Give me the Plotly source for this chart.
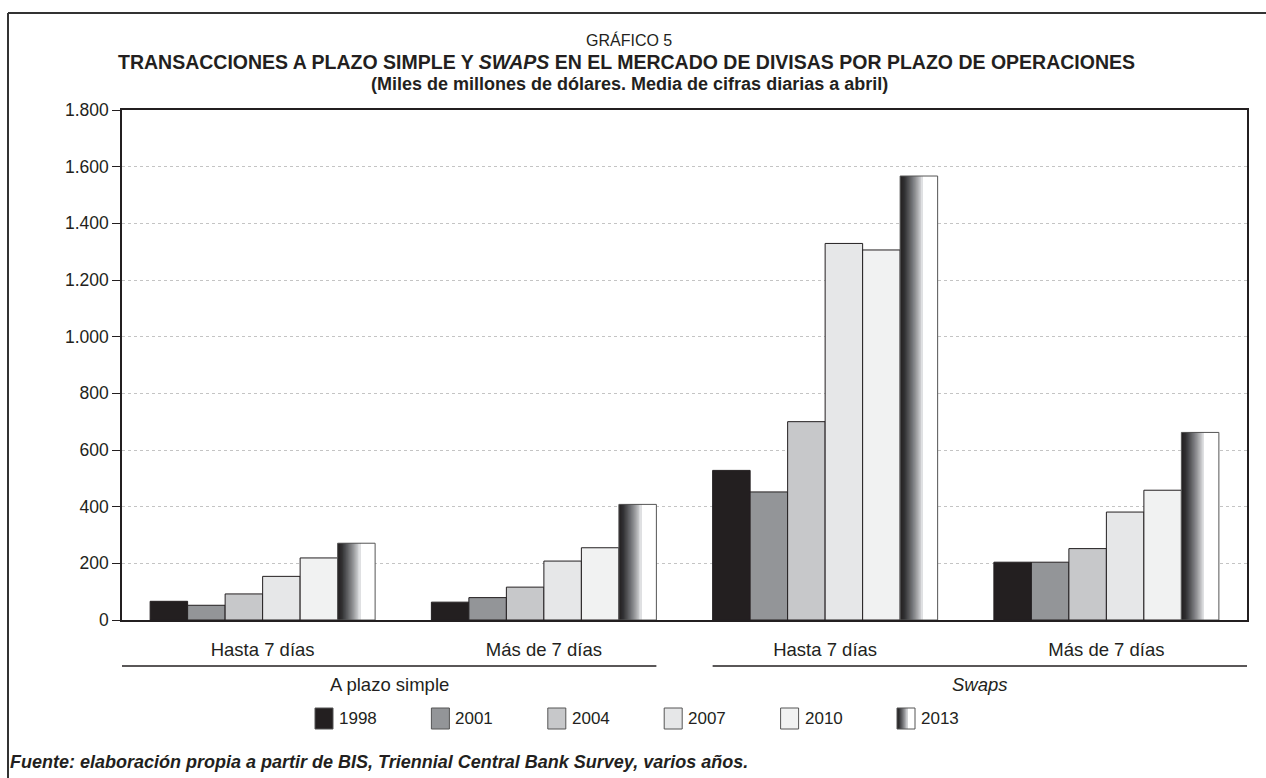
import plotly.graph_objects as go

# Data: billions of USD, daily average in April
groups = ["Hasta 7 días", "Más de 7 días", "Hasta 7 días", "Más de 7 días"]
segments = ["A plazo simple", "<i>Swaps</i>"]
years = ["1998", "2001", "2004", "2007", "2010", "2013"]
v1998 = [66, 63, 528, 204]
v2001 = [52, 79, 452, 204]
v2004 = [92, 116, 700, 252]
v2007 = [154, 208, 1329, 381]
v2010 = [219, 255, 1306, 458]
v2013 = [271, 408, 1567, 662]
y_ticks = [0, 200, 400, 600, 800, 1000, 1200, 1400, 1600, 1800]

series = [v1998, v2001, v2004, v2007, v2010, v2013]
solid_colors = ["#231f20", "#939598", "#c7c8ca", "#e6e7e8", "#f1f2f2"]
# horizontal shading of the 2013 bars: (position across bar, colour)
shade_stops = [(0.0, (35, 31, 32)), (0.12, (50, 50, 52)), (0.28, (100, 101, 104)),
               (0.42, (150, 151, 154)), (0.55, (205, 206, 208)), (0.6, (228, 229, 230))]
shade_end = 0.6

INK = "#231f20"
FONT = "Liberation Sans"

W, H = 1266, 778
ML, MR, MT, MB = 122, 19, 110, 158
PW, PH = W - ML - MR, H - MT - MB


def px_x(px):
    return (px - ML) / PW


def px_y(py):
    return (H - MB - py) / PH


def shade(f):
    for (f0, c0), (f1, c1) in zip(shade_stops[:-1], shade_stops[1:]):
        if f <= f1:
            t = (f - f0) / (f1 - f0) if f1 > f0 else 0
            c = [round(a + (b - a) * t) for a, b in zip(c0, c1)]
            return "rgb(%d,%d,%d)" % tuple(c)
    return "rgb(%d,%d,%d)" % shade_stops[-1][1]


x = list(range(len(groups)))
group_span = 0.8
bw = group_span / len(years)
offsets = [-group_span / 2 + k * bw for k in range(len(years))]

fig = go.Figure()

for k, yr in enumerate(years[:-1]):
    fig.add_trace(go.Bar(
        x=x, y=series[k], width=bw, offset=offsets[k], name=yr,
        marker=dict(color=solid_colors[k], line=dict(color=INK, width=1)),
        showlegend=False, hoverinfo="y+name",
    ))

# 2013: white base, shaded strips, then outline on top
off13 = offsets[-1]
fig.add_trace(go.Bar(x=x, y=v2013, width=bw, offset=off13, name="2013",
                     marker=dict(color="white", line=dict(width=0)),
                     showlegend=False, hoverinfo="y+name"))
n_strips = 30
for j in range(n_strips):
    f = shade_end * j / n_strips
    fig.add_trace(go.Bar(
        x=x, y=v2013, width=bw * (shade_end - f), offset=off13 + bw * f,
        marker=dict(color=shade(f + shade_end / n_strips / 2), line=dict(width=0)),
        showlegend=False, hoverinfo="skip",
    ))
fig.add_trace(go.Bar(x=x, y=v2013, width=bw, offset=off13,
                     marker=dict(color="rgba(0,0,0,0)", line=dict(color="#555", width=1)),
                     showlegend=False, hoverinfo="skip"))

shapes = []
annotations = []

# outer frame (top and left rules)
shapes.append(dict(type="line", xref="paper", yref="paper",
                   x0=px_x(8), x1=px_x(W + 2), y0=px_y(13), y1=px_y(13),
                   line=dict(color="#333", width=2)))
shapes.append(dict(type="line", xref="paper", yref="paper",
                   x0=px_x(8), x1=px_x(8), y0=px_y(13), y1=px_y(H + 2),
                   line=dict(color="#333", width=2)))

# segment rules and labels under the category labels
seg_ranges = [(-0.5, 1 + group_span / 2), (2 - group_span / 2, 3.5)]
for (a, b), lab in zip(seg_ranges, segments):
    shapes.append(dict(type="line", xref="x", yref="paper", x0=a, x1=b,
                       y0=px_y(666), y1=px_y(666), line=dict(color=INK, width=1.5)))
    annotations.append(dict(xref="x", yref="paper", x=(a + b) / 2, y=px_y(684),
                            text=lab, showarrow=False, yanchor="middle",
                            font=dict(size=18.5, color=INK, family=FONT)))

# legend row
leg_x0, leg_step, sw_w, sw_top, sw_bot = 315, 116.4, 18, 708, 729
for k, yr in enumerate(years):
    lx = leg_x0 + k * leg_step
    if k < len(solid_colors):
        shapes.append(dict(type="rect", xref="paper", yref="paper",
                           x0=px_x(lx), x1=px_x(lx + sw_w), y0=px_y(sw_bot), y1=px_y(sw_top),
                           fillcolor=solid_colors[k], line=dict(color="#555", width=1)))
    else:
        shapes.append(dict(type="rect", xref="paper", yref="paper",
                           x0=px_x(lx), x1=px_x(lx + sw_w), y0=px_y(sw_bot), y1=px_y(sw_top),
                           fillcolor="white", line=dict(width=0)))
        m = 12
        for j in range(m):
            f = shade_end * j / m
            shapes.append(dict(type="rect", xref="paper", yref="paper",
                               x0=px_x(lx + sw_w * f), x1=px_x(lx + sw_w * shade_end),
                               y0=px_y(sw_bot), y1=px_y(sw_top),
                               fillcolor=shade(f + shade_end / m / 2), line=dict(width=0)))
        shapes.append(dict(type="rect", xref="paper", yref="paper",
                           x0=px_x(lx), x1=px_x(lx + sw_w), y0=px_y(sw_bot), y1=px_y(sw_top),
                           fillcolor="rgba(0,0,0,0)", line=dict(color="#555", width=1)))
    annotations.append(dict(xref="paper", yref="paper", x=px_x(lx + sw_w + 4), y=px_y(718.5),
                            text=yr, showarrow=False, xanchor="left", yanchor="middle",
                            font=dict(size=17, color=INK, family=FONT)))

# titles
annotations += [
    dict(xref="paper", yref="paper", x=px_x(629), y=px_y(40), text="GRÁFICO 5",
         showarrow=False, yanchor="middle", font=dict(size=16, color=INK, family=FONT)),
    dict(xref="paper", yref="paper", x=px_x(626), y=px_y(62),
         text="<b>TRANSACCIONES A PLAZO SIMPLE Y <i>SWAPS</i> EN EL MERCADO DE DIVISAS POR PLAZO DE OPERACIONES</b>",
         showarrow=False, yanchor="middle", font=dict(size=19.5, color=INK, family=FONT)),
    dict(xref="paper", yref="paper", x=px_x(629), y=px_y(84),
         text="<b>(Miles de millones de dólares. Media de cifras diarias a abril)</b>",
         showarrow=False, yanchor="middle", font=dict(size=18, color=INK, family=FONT)),
    dict(xref="paper", yref="paper", x=px_x(8), y=px_y(762), xanchor="left", yanchor="middle",
         text="<b><i>Fuente: elaboración propia a partir de BIS, Triennial Central Bank Survey, varios años.</i></b>",
         showarrow=False, font=dict(size=18, color=INK, family=FONT)),
]

fig.update_layout(
    width=W, height=H, margin=dict(l=ML, r=MR, t=MT, b=MB),
    barmode="overlay", plot_bgcolor="white", paper_bgcolor="white",
    separators=",.", showlegend=False,
    font=dict(family=FONT, color=INK),
    shapes=shapes, annotations=annotations,
)
fig.update_xaxes(range=[-0.5, 3.5], tickvals=x, ticktext=groups, ticks="",
                 showgrid=False, showline=True, linecolor=INK, linewidth=1.5, mirror=True,
                 tickfont=dict(size=18.5, color=INK, family=FONT), ticklabelstandoff=12,
                 zeroline=False, fixedrange=True)
fig.update_yaxes(range=[0, 1800], tickvals=y_ticks, tickformat=",d", ticks="outside",
                 ticklen=8, tickcolor=INK, tickwidth=1.2,
                 showgrid=True, gridcolor="#c4c4c4", griddash="3px,3px", gridwidth=1,
                 showline=True, linecolor=INK, linewidth=1.5, mirror=True,
                 tickfont=dict(size=17.5, color=INK, family=FONT), zeroline=False, fixedrange=True)

fig.write_html("out.html")
